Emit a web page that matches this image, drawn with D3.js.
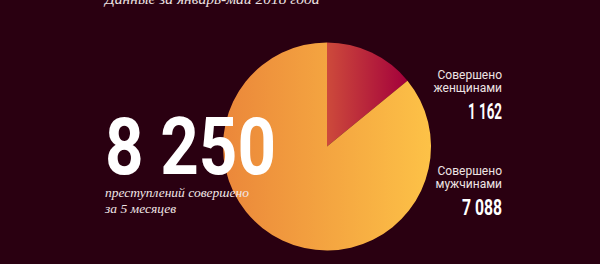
<!DOCTYPE html>
<html>
<head>
<meta charset="utf-8">
<script src="https://cdn.jsdelivr.net/npm/d3@7/dist/d3.min.js"></script>
<style>
  html, body { margin: 0; padding: 0; background: #2a0011; }
  svg { display: block; }
</style>
</head>
<body>
<svg id="chart" width="600" height="264"></svg>
<script>
// data
var groups = ["Совершено женщинами", "Совершено мужчинами"],
    counts = [1162, 7088],
    countLabels = ["1 162", "7 088"],
    totalLabel = "8 250",
    title = "Данные за январь-май 2018 года",
    subtitle = ["преступлений совершено", "за 5 месяцев"];

var svg = d3.select("#chart");
var W = 600, H = 264;

svg.append("rect").attr("width", W).attr("height", H).attr("fill", "#2a0011");

var cx = 327, cy = 146.5, r = 104;

var defs = svg.append("defs");
// men: horizontal gradient across the whole pie
var gMen = defs.append("linearGradient")
    .attr("id", "gradMen")
    .attr("gradientUnits", "userSpaceOnUse")
    .attr("x1", -r).attr("y1", 0).attr("x2", r).attr("y2", 0);
gMen.append("stop").attr("offset", "0%").attr("stop-color", "#eb873a");
gMen.append("stop").attr("offset", "100%").attr("stop-color", "#fdc247");

var gWomen = defs.append("linearGradient")
    .attr("id", "gradWomen")
    .attr("x1", "0%").attr("y1", "0%").attr("x2", "100%").attr("y2", "0%");
gWomen.append("stop").attr("offset", "0%").attr("stop-color", "#cd4a3b");
gWomen.append("stop").attr("offset", "100%").attr("stop-color", "#a3003b");

var fills = ["url(#gradWomen)", "url(#gradMen)"];

var pie = d3.pie().sort(null).value(function(d){ return d; });
var arc = d3.arc().innerRadius(0).outerRadius(r);

var pieG = svg.append("g").attr("transform", "translate(" + cx + "," + cy + ")");
pieG.selectAll("path")
    .data(pie(counts))
    .enter()
    .append("path")
    .attr("d", arc)
    .attr("fill", function(d, i){ return fills[i]; });

// title (cut at top, as in the source)
svg.append("text")
    .attr("x", 105).attr("y", 4)
    .attr("font-family", "'Liberation Serif', serif")
    .attr("font-style", "italic")
    .attr("font-size", 15.5)
    .attr("fill", "#ece2e2")
    .text(title);

// big total
svg.append("text")
    .attr("x", 105).attr("y", 173.5)
    .attr("font-family", "Roboto, sans-serif")
    .attr("font-weight", 700)
    .attr("font-size", 80)
    .attr("textLength", 171)
    .attr("lengthAdjust", "spacingAndGlyphs")
    .attr("fill", "#ffffff")
    .text(totalLabel);

svg.selectAll("text.sub")
    .data(subtitle)
    .enter()
    .append("text")
    .attr("class", "sub")
    .attr("x", 105)
    .attr("y", function(d, i){ return 197 + i * 16; })
    .attr("font-family", "'Liberation Serif', serif")
    .attr("font-style", "italic")
    .attr("font-size", 13.5)
    .attr("fill", "#f0e6e6")
    .text(function(d){ return d; });

// right labels
var labelTop = [79, 175],
    numWidth = [34, 40],
    rightX = 502;

groups.forEach(function(g, i){
    var words = g.split(" ");
    words.forEach(function(w, j){
        svg.append("text")
            .attr("x", rightX).attr("y", labelTop[i] + j * 13)
            .attr("text-anchor", "end")
            .attr("font-family", "Roboto, sans-serif")
            .attr("font-size", 12)
            .attr("fill", "#eee4e4")
            .text(w);
    });
    svg.append("text")
        .attr("x", rightX - numWidth[i]).attr("y", labelTop[i] + 40)
        .attr("font-family", "Roboto, sans-serif")
        .attr("font-weight", 700)
        .attr("font-size", 22)
        .attr("textLength", numWidth[i])
        .attr("lengthAdjust", "spacingAndGlyphs")
        .attr("fill", "#ffffff")
        .text(countLabels[i]);
});
</script>
</body>
</html>
